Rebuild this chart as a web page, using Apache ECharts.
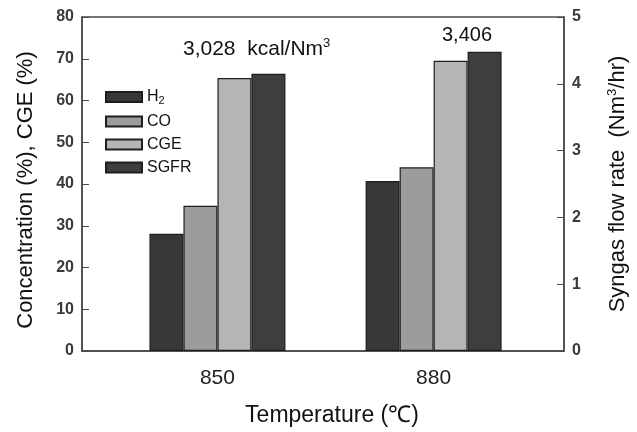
<!DOCTYPE html>
<html lang="en">
<head>
    <meta charset="UTF-8">
    <title>Syngas chart</title>
    <script type="text/javascript" src="https://cdn.jsdelivr.net/npm/echarts@6/dist/echarts.min.js"></script>
    <style>
        html, body { margin: 0; padding: 0; background: #fff; }
        #chart { width: 637px; height: 432px; }
    </style>
</head>
<body>
    <div id="chart"></div>
</body>
<script type="text/javascript">
    var temps = [850, 880];
    var h2 = [28.1, 40.7];
    var co = [34.8, 44.0];
    var cge = [65.4, 69.5];
    var sgfr = [4.15, 4.48];   // right axis, Nm3/hr

    var font = 'Liberation Sans';

    function pairs(vals) {
        return temps.map(function (t, i) { return [t, vals[i]]; });
    }

    function barSeries(name, vals, color, axis) {
        return {
            name: name,
            type: 'bar',
            yAxisIndex: axis,
            barWidth: 34,
            barGap: '0%',
            data: pairs(vals),
            itemStyle: { color: color, borderColor: '#1e1e1e', borderWidth: 1.2 }
        };
    }

    var myChart = echarts.init(document.getElementById('chart'));

    var options = {
        animation: false,
        grid: {
            left: 82, right: 73, top: 17, bottom: 79,
            show: true, borderColor: '#4a4a4a', borderWidth: 1.5
        },
        legend: {
            orient: 'vertical',
            left: 100, top: 84,
            icon: 'rect',
            itemWidth: 36, itemHeight: 10, itemGap: 7,
            data: ['H2', 'CO', 'CGE', 'SGFR'],
            formatter: function (n) {
                return n === 'H2' ? '{n|H}{s|2}' : '{n|' + n + '}';
            },
            textStyle: {
                fontFamily: font, fontSize: 16, color: '#111',
                rich: {
                    n: { fontFamily: font, fontSize: 16, color: '#111' },
                    s: { fontFamily: font, fontSize: 11, color: '#111', padding: [8, 0, 0, 0] }
                }
            }
        },
        xAxis: {
            type: 'value',
            min: 831.2, max: 898.1,
            name: 'Temperature (\u2103)',
            nameLocation: 'middle',
            nameGap: 53,
            nameTextStyle: { fontFamily: font, fontSize: 23, color: '#111', padding: [0, 0, 0, 18] },
            axisLine: { lineStyle: { color: '#4a4a4a', width: 1.5 } },
            axisTick: { show: false },
            splitLine: { show: false },
            axisLabel: {
                customValues: temps,
                margin: 17,
                fontFamily: font, fontSize: 21, color: '#222'
            }
        },
        yAxis: [{
            type: 'value',
            min: 0, max: 80, interval: 10,
            name: 'Concentration (%), CGE (%)',
            nameLocation: 'middle',
            nameGap: 45,
            nameTextStyle: { fontFamily: font, fontSize: 22, color: '#111', padding: [0, 12, 0, 0] },
            axisLine: { show: true, lineStyle: { color: '#4a4a4a', width: 1.5 } },
            axisTick: { show: true, inside: true, length: 7, lineStyle: { color: '#4a4a4a' } },
            splitLine: { show: false },
            axisLabel: { fontFamily: font, fontSize: 16, fontWeight: 'bold', color: '#3a3a3a', margin: 8 }
        }, {
            type: 'value',
            min: 0, max: 5, interval: 1,
            name: 'Syngas flow rate  (Nm{sup|3}/hr)',
            nameLocation: 'middle',
            nameGap: 42,
            nameRotate: 90,
            nameTextStyle: {
                fontFamily: font, fontSize: 22, color: '#111',
                rich: { sup: { fontFamily: font, fontSize: 13, color: '#111', padding: [0, 0, 11, 0] } }
            },
            axisLine: { show: true, lineStyle: { color: '#4a4a4a', width: 1.5 } },
            axisTick: { show: true, inside: true, length: 7, lineStyle: { color: '#4a4a4a' } },
            splitLine: { show: false },
            axisLabel: { fontFamily: font, fontSize: 16, fontWeight: 'bold', color: '#3a3a3a', margin: 8 }
        }],
        graphic: [{
            type: 'text',
            left: 183, top: 37,
            style: {
                text: '3,028  kcal/Nm{sup|3}',
                fontFamily: font, fontSize: 21, fill: '#111',
                rich: {
                    sup: { fontFamily: font, fontSize: 13, fill: '#111', padding: [0, 0, 11, 0] }
                }
            }
        }, {
            type: 'text',
            left: 442, top: 25,
            style: { text: '3,406', fontFamily: font, fontSize: 20, fill: '#111' }
        }],
        series: [
            barSeries('H2', h2, '#383838', 0),
            barSeries('CO', co, '#9c9c9c', 0),
            barSeries('CGE', cge, '#b5b5b5', 0),
            barSeries('SGFR', sgfr, '#3e3e3e', 1)
        ]
    };
    myChart.setOption(options);
</script>
</html>
